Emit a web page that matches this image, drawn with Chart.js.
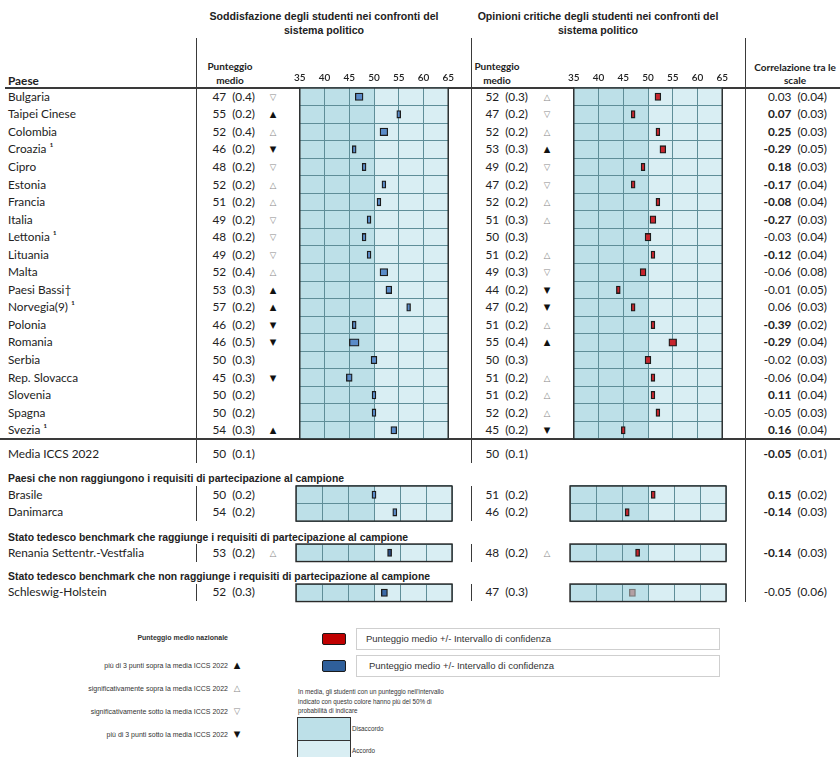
<!DOCTYPE html>
<html lang="it">
<head>
<meta charset="utf-8">
<title>Soddisfazione e opinioni critiche verso il sistema politico</title>
<script src="https://cdn.jsdelivr.net/npm/chart.js@4.4.1/dist/chart.umd.min.js"></script>
<style>
  html, body { margin: 0; padding: 0; background: #fff; }
  #page { position: relative; width: 840px; height: 757px; overflow: hidden; font-family: Lato, "Open Sans", sans-serif; color: #222; }
  .t { position: absolute; white-space: nowrap; line-height: 1; }
  .row { font-size: 11.8px; }
  .hd { font-family: "Liberation Sans", Arial, sans-serif; font-weight: bold; font-size: 10.6px; }
  .sec { font-family: "Liberation Sans", Arial, sans-serif; font-weight: bold; font-size: 10.4px; }
  .sub { font-weight: bold; font-size: 10px; }
  .tri { font-family: "DejaVu Sans", sans-serif; font-size: 8.5px; }
  .tri.f { color: #111; }
  .tri.o { color: #888; }
  .lg { font-family: "Liberation Sans", Arial, sans-serif; font-size: 7px; color: #333; }
  .ln { position: absolute; background: #3a3a3a; }
  .box { position: absolute; box-sizing: border-box; }
  canvas { position: absolute; }
</style>
</head>
<body>
<div id="page"></div>
<script>
// ---- data -------------------------------------------------------------
const countries = ['Bulgaria', 'Taipei Cinese', 'Colombia', 'Croazia \u00b9', 'Cipro', 'Estonia', 'Francia', 'Italia',
  'Lettonia \u00b9', 'Lituania', 'Malta', 'Paesi Bassi\u2020', 'Norvegia(9) \u00b9', 'Polonia', 'Romania', 'Serbia',
  'Rep. Slovacca', 'Slovenia', 'Spagna', 'Svezia \u00b9'];
const satMean = [47, 55, 52, 46, 48, 52, 51, 49, 48, 49, 52, 53, 57, 46, 46, 50, 45, 50, 50, 54];
const satSE   = [0.4, 0.2, 0.4, 0.2, 0.2, 0.2, 0.2, 0.2, 0.2, 0.2, 0.4, 0.3, 0.2, 0.2, 0.5, 0.3, 0.3, 0.2, 0.2, 0.3];
const satSig  = ['\u25bd', '\u25b2', '\u25b3', '\u25bc', '\u25bd', '\u25b3', '\u25b3', '\u25bd', '\u25bd', '\u25bd',
  '\u25b3', '\u25b2', '\u25b2', '\u25bc', '\u25bc', '', '\u25bc', '', '', '\u25b2'];
const critMean = [52, 47, 52, 53, 49, 47, 52, 51, 50, 51, 49, 44, 47, 51, 55, 50, 51, 51, 52, 45];
const critSE   = [0.3, 0.2, 0.2, 0.3, 0.2, 0.2, 0.2, 0.3, 0.3, 0.2, 0.3, 0.2, 0.2, 0.2, 0.4, 0.3, 0.2, 0.2, 0.2, 0.2];
const critSig  = ['\u25b3', '\u25bd', '\u25b3', '\u25b2', '\u25bd', '\u25bd', '\u25b3', '\u25b3', '', '\u25b3',
  '\u25bd', '\u25bc', '\u25bc', '\u25b3', '\u25b2', '', '\u25b3', '\u25b3', '\u25b3', '\u25bc'];
const corrVal = ['0.03', '0.07', '0.25', '-0.29', '0.18', '-0.17', '-0.08', '-0.27', '-0.03', '-0.12',
  '-0.06', '-0.01', '0.06', '-0.39', '-0.29', '-0.02', '-0.06', '0.11', '-0.05', '0.16'];
const corrSE  = ['0.04', '0.03', '0.03', '0.05', '0.03', '0.04', '0.04', '0.03', '0.04', '0.04',
  '0.08', '0.05', '0.03', '0.02', '0.04', '0.03', '0.04', '0.04', '0.03', '0.04'];
const corrSig = [0, 1, 1, 1, 1, 1, 1, 1, 0, 1, 0, 0, 0, 1, 1, 0, 0, 1, 0, 1];

const avgLabel = 'Media ICCS 2022';
const avgSat = [50, 0.1], avgCrit = [50, 0.1], avgCorr = ['-0.05', '0.01', 1];

const extraCountries = ['Brasile', 'Danimarca'];
const extraSatMean = [50, 54], extraSatSE = [0.2, 0.2];
const extraCritMean = [51, 46], extraCritSE = [0.2, 0.2];
const extraCorrVal = ['0.15', '-0.14'], extraCorrSE = ['0.02', '0.03'], extraCorrSig = [1, 1];

const benchA = ['Renania Settentr.-Vestfalia'];
const benchASatMean = [53], benchASatSE = [0.2], benchASatSig = ['\u25b3'];
const benchACritMean = [48], benchACritSE = [0.2], benchACritSig = ['\u25b3'];
const benchACorr = ['-0.14', '0.03', 1];

const benchB = ['Schleswig-Holstein'];
const benchBSatMean = [52], benchBSatSE = [0.3];
const benchBCritMean = [47], benchBCritSE = [0.3];
const benchBCorr = ['-0.05', '0.06', 0];

const scaleTicks = [35, 40, 45, 50, 55, 60, 65];
const scaleSplit = 50; // Disaccordo below, Accordo above

// ---- layout helpers ----------------------------------------------------
const page = document.getElementById('page');
const TOP = 88, ROW = 17.55;
const L = { x0: 296, x1: 452 }, R = { x0: 570, x1: 726 };
const C_DIS = '#bde0e8', C_ACC = '#d9eef3', C_GRID = '#5f8e98';
const BLUE = '#5a8bc8', RED = '#c8252d';

function txt(x, y, html, cls, align) {
  const d = document.createElement('div');
  d.className = 't ' + (cls || '');
  d.innerHTML = html;
  d.style.left = x + 'px';
  d.style.top = y + 'px';
  const tx = align === 'r' ? '-100%' : align === 'c' ? '-50%' : '0';
  d.style.transform = 'translate(' + tx + ',-50%)';
  page.appendChild(d);
  return d;
}
function line(x, y, w, h, color) {
  const d = document.createElement('div');
  d.className = 'ln';
  Object.assign(d.style, { left: x + 'px', top: y + 'px', width: w + 'px', height: h + 'px' });
  if (color) d.style.background = color;
  page.appendChild(d);
}
function tri(x, y, s) {
  if (!s) return;
  const filled = s === '\u25b2' || s === '\u25bc';
  txt(x, y, s, 'tri ' + (filled ? 'f' : 'o'), 'c');
}
function corrHtml(v, se, sig) {
  return (sig ? '<b>' + v + '</b>' : v) + '&nbsp;&nbsp;(' + se + ')';
}

// background bands and frame around each plotting area
const bandPlugin = {
  id: 'bands',
  beforeDraw(chart) {
    const { ctx, chartArea: a, scales: { x } } = chart;
    const xs = x.getPixelForValue(scaleSplit);
    ctx.save();
    ctx.fillStyle = C_DIS;
    ctx.fillRect(a.left, a.top, xs - a.left, a.bottom - a.top);
    ctx.fillStyle = C_ACC;
    ctx.fillRect(xs, a.top, a.right - xs, a.bottom - a.top);
    ctx.restore();
  },
  afterDraw(chart) {
    const { ctx, chartArea: a } = chart;
    ctx.save();
    ctx.strokeStyle = '#2a2a2a';
    ctx.lineWidth = 1.4;
    ctx.strokeRect(a.left, a.top, a.right - a.left, a.bottom - a.top);
    ctx.restore();
  }
};

function panel(xr, top, labels, means, ses, fill, withTicks, border) {
  const rowsH = labels.length * ROW;
  const axisH = withTicks ? 24 : 0;
  const pad = 6;
  const cv = document.createElement('canvas');
  const w = (xr.x1 - xr.x0) + 2 * pad;
  const h = Math.ceil(rowsH + axisH + 2 * pad);
  cv.width = w; cv.height = h;
  cv.style.left = (xr.x0 - pad) + 'px';
  cv.style.top = (top - axisH - pad) + 'px';
  page.appendChild(cv);
  new Chart(cv, {
    type: 'bar',
    data: {
      labels: labels,
      datasets: [{
        data: means.map((m, i) => [m - 1.96 * ses[i], m + 1.96 * ses[i]]),
        backgroundColor: fill,
        borderColor: border || '#1c1c1c',
        borderWidth: 1.3,
        borderSkipped: false,
        barThickness: 7.5
      }]
    },
    options: {
      indexAxis: 'y',
      responsive: false,
      animation: false,
      events: [],
      layout: { padding: { left: pad, right: pad, top: pad, bottom: h - pad - axisH - rowsH } },
      plugins: { legend: { display: false }, tooltip: { enabled: false } },
      scales: {
        x: {
          type: 'linear', position: 'top', min: scaleTicks[0], max: scaleTicks[scaleTicks.length - 1],
          afterBuildTicks(s) { s.ticks = scaleTicks.map(v => ({ value: v })); },
          afterFit(s) { s.height = axisH; },
          ticks: {
            display: withTicks, padding: 4, color: '#222',
            font: { family: 'Lato', size: 10, weight: '600' }
          },
          grid: { color: C_GRID, lineWidth: 1, drawTicks: false },
          border: { display: false }
        },
        y: {
          type: 'category',
          afterFit(s) { s.width = 0; },
          ticks: { display: false },
          grid: { color: C_GRID, lineWidth: 1, drawTicks: false, offset: true },
          border: { display: false }
        }
      }
    },
    plugins: [bandPlugin]
  });
}

// ---- headers ------------------------------------------------------------
txt(324, 16, 'Soddisfazione degli studenti nei confronti del', 'hd', 'c');
txt(324, 30, 'sistema politico', 'hd', 'c');
txt(598, 16, 'Opinioni critiche degli studenti nei confronti del', 'hd', 'c');
txt(598, 30, 'sistema politico', 'hd', 'c');
txt(8, 81, 'Paese', 'row', 'l').style.fontWeight = 'bold';
txt(230, 66, 'Punteggio', 'sub', 'c');
txt(230, 80, 'medio', 'sub', 'c');
txt(497, 66, 'Punteggio', 'sub', 'c');
txt(497, 80, 'medio', 'sub', 'c');
txt(795, 67, 'Correlazione tra le', 'sub', 'c');
txt(795, 80, 'scale', 'sub', 'c');

// ---- rule lines -----------------------------------------------------------
line(5, TOP - 1, 835, 1.6);
line(0, TOP + 20 * ROW - 0.8, 840, 1.6);
line(195.5, 38, 1.4, 425);
line(470.5, 38, 1.4, 425);
line(744.5, 38, 1.4, 564);

// ---- main rows ------------------------------------------------------------
const rowY = i => TOP + ROW * (i + 0.5);
countries.forEach((c, i) => {
  const y = rowY(i);
  txt(8, y, c, 'row', 'l');
  txt(255, y, satMean[i] + '&nbsp;&nbsp;(' + satSE[i].toFixed(1) + ')', 'row', 'r');
  tri(273, y, satSig[i]);
  txt(528, y, critMean[i] + '&nbsp;&nbsp;(' + critSE[i].toFixed(1) + ')', 'row', 'r');
  tri(547, y, critSig[i]);
  txt(827, y, corrHtml(corrVal[i], corrSE[i], corrSig[i]), 'row', 'r');
});
panel(L, TOP, countries, satMean, satSE, BLUE, true);
panel(R, TOP, countries, critMean, critSE, RED, true);

// ---- average row -------------------------------------------------------------
const yAvg = 453.5;
txt(8, yAvg, avgLabel, 'row', 'l');
txt(255, yAvg, avgSat[0] + '&nbsp;&nbsp;(' + avgSat[1].toFixed(1) + ')', 'row', 'r');
txt(528, yAvg, avgCrit[0] + '&nbsp;&nbsp;(' + avgCrit[1].toFixed(1) + ')', 'row', 'r');
txt(827, yAvg, corrHtml(avgCorr[0], avgCorr[1], avgCorr[2]), 'row', 'r');

// ---- countries outside the sampling requirements ----------------------------
txt(8, 478.5, 'Paesi che non raggiungono i requisiti di partecipazione al campione', 'sec', 'l');
const topExtra = 486;
extraCountries.forEach((c, i) => {
  const y = topExtra + ROW * (i + 0.5);
  txt(8, y, c, 'row', 'l');
  txt(255, y, extraSatMean[i] + '&nbsp;&nbsp;(' + extraSatSE[i].toFixed(1) + ')', 'row', 'r');
  txt(528, y, extraCritMean[i] + '&nbsp;&nbsp;(' + extraCritSE[i].toFixed(1) + ')', 'row', 'r');
  txt(827, y, corrHtml(extraCorrVal[i], extraCorrSE[i], extraCorrSig[i]), 'row', 'r');
});
line(195.5, topExtra, 1.4, 2 * ROW);
line(470.5, topExtra, 1.4, 2 * ROW);
panel(L, topExtra, extraCountries, extraSatMean, extraSatSE, BLUE, false);
panel(R, topExtra, extraCountries, extraCritMean, extraCritSE, RED, false);

// ---- benchmark region meeting the requirements --------------------------------
txt(8, 537.5, 'Stato tedesco benchmark che raggiunge i requisiti di partecipazione al campione', 'sec', 'l');
const topA = 544;
{
  const y = topA + ROW / 2;
  txt(8, y, benchA[0], 'row', 'l');
  txt(255, y, benchASatMean[0] + '&nbsp;&nbsp;(' + benchASatSE[0].toFixed(1) + ')', 'row', 'r');
  tri(273, y, benchASatSig[0]);
  txt(528, y, benchACritMean[0] + '&nbsp;&nbsp;(' + benchACritSE[0].toFixed(1) + ')', 'row', 'r');
  tri(547, y, benchACritSig[0]);
  txt(827, y, corrHtml(benchACorr[0], benchACorr[1], benchACorr[2]), 'row', 'r');
}
line(195.5, topA, 1.4, ROW);
line(470.5, topA, 1.4, ROW);
panel(L, topA, benchA, benchASatMean, benchASatSE, '#2c4f86', false);
panel(R, topA, benchA, benchACritMean, benchACritSE, RED, false);

// ---- benchmark region not meeting the requirements ------------------------------
txt(8, 576.5, 'Stato tedesco benchmark che non raggiunge i requisiti di partecipazione al campione', 'sec', 'l');
const topB = 583.5;
{
  const y = topB + ROW / 2;
  txt(8, y, benchB[0], 'row', 'l');
  txt(255, y, benchBSatMean[0] + '&nbsp;&nbsp;(' + benchBSatSE[0].toFixed(1) + ')', 'row', 'r');
  txt(528, y, benchBCritMean[0] + '&nbsp;&nbsp;(' + benchBCritSE[0].toFixed(1) + ')', 'row', 'r');
  txt(827, y, corrHtml(benchBCorr[0], benchBCorr[1], benchBCorr[2]), 'row', 'r');
}
line(195.5, topB, 1.4, ROW);
line(470.5, topB, 1.4, ROW);
panel(L, topB, benchB, benchBSatMean, benchBSatSE, '#3a6aa8', false);
panel(R, topB, benchB, benchBCritMean, benchBCritSE, '#b3a0a4', false, '#7a7a7a');

// ---- legend ---------------------------------------------------------------------
txt(228, 637, 'Punteggio medio nazionale', 'lg', 'r').style.fontWeight = 'bold';
const legendTri = [
  ['pi\u00f9 di 3 punti sopra la media ICCS 2022', '\u25b2'],
  ['significativamente sopra la media ICCS 2022', '\u25b3'],
  ['significativamente sotto la media ICCS 2022', '\u25bd'],
  ['pi\u00f9 di 3 punti sotto la media ICCS 2022', '\u25bc']
];
legendTri.forEach(([label, s], i) => {
  const y = 665 + i * 23;
  txt(228, y, label, 'lg', 'r');
  tri(237, y, s);
});

function box(x, y, w, h, css) {
  const d = document.createElement('div');
  d.className = 'box';
  Object.assign(d.style, { left: x + 'px', top: y + 'px', width: w + 'px', height: h + 'px' }, css);
  page.appendChild(d);
  return d;
}
box(322, 633, 24, 12, { background: '#c00000', border: '1.5px solid #1a1a1a', borderRadius: '2px' });
box(356, 628, 364, 22, { border: '1px solid #cfcfcf' });
txt(366, 639, 'Punteggio medio +/- Intervallo di confidenza', 'lg', 'l').style.fontSize = '9.5px';
box(322, 660, 24, 12, { background: '#2f5f9a', border: '1.5px solid #1a1a1a', borderRadius: '2px' });
box(356, 655, 364, 22, { border: '1px solid #cfcfcf' });
txt(369, 666, 'Punteggio medio +/- Intervallo di confidenza', 'lg', 'l').style.fontSize = '9.5px';

txt(298, 692, 'In media, gli studenti con un punteggio nell\'intervallo', 'lg', 'l').style.fontSize = '6.3px';
txt(298, 701.5, 'indicato con questo colore hanno pi\u00f9 del 50% di', 'lg', 'l').style.fontSize = '6.3px';
txt(298, 711, 'probabilit\u00e0 di indicare', 'lg', 'l').style.fontSize = '6.3px';
box(297, 717, 54, 24, { background: C_DIS, border: '1.2px solid #333' });
box(297, 740, 54, 20, { background: C_ACC, border: '1.2px solid #333' });
txt(352, 729, 'Disaccordo', 'lg', 'l').style.fontSize = '6.3px';
txt(352, 751, 'Accordo', 'lg', 'l').style.fontSize = '6.3px';
</script>
</body>
</html>
